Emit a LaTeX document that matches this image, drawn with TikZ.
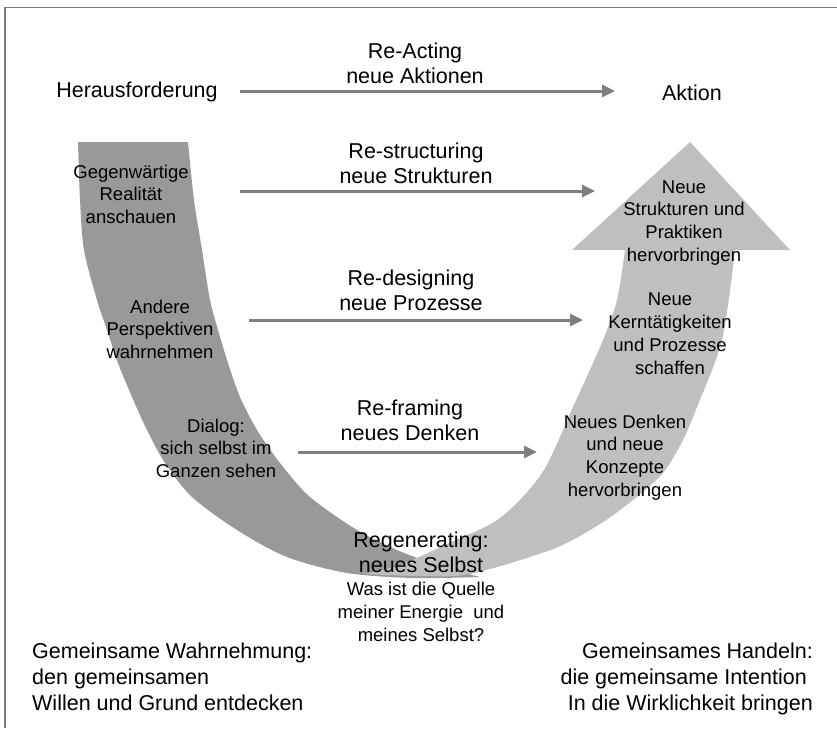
\documentclass[tikz,border=0pt]{standalone}
\usepackage{fontspec}
\setmainfont{Liberation Sans}
\usetikzlibrary{arrows.meta}
\definecolor{darkband}{HTML}{999999}
\definecolor{lightband}{HTML}{BFBFBF}
\definecolor{arrowgray}{HTML}{7F7F7F}
\definecolor{framegray}{HTML}{7A7A7A}
\newcommand\bigtxt{\fontsize{21.5}{25.5}\selectfont}
\newcommand\bottxt{\fontsize{21.5}{26}\selectfont}
\newcommand\smalltxt{\fontsize{18.5}{22.8}\selectfont}
\begin{document}
\begin{tikzpicture}[x=1pt,y=-1pt,
  bigl/.style={font=\bigtxt, align=center, anchor=base, inner sep=0pt},
  smalll/.style={font=\smalltxt, align=center, anchor=base, inner sep=0pt},
  conn/.style={draw=arrowgray, line width=3pt, -{Triangle[length=13pt,width=12pt]}},
]
\useasboundingbox (0,0) rectangle (837,728);
\fill[framegray] (4,6.8) rectangle (837,8.4);
\fill[framegray] (4,6.8) rectangle (5.6,728);

% dark band (left part of the U)
\fill[darkband] plot[smooth] coordinates {(78,142) (80,200) (84,250) (97,300) (107,330) (118,363) (132,397) (147,430) (165,463) (192,497) (237,530) (287,557) (347,573) (413,578) (480,577)}
 -- plot[smooth] coordinates {(480,577) (440,566) (397,550) (357,530) (310,497) (280,463) (257,430) (240,397) (228,363) (218,330) (210,300) (202,250) (194,200) (188,142)} -- cycle;

% light band with arrow head (right part of the U)
\fill[lightband] plot[smooth] coordinates {(365,574) (420,576) (470,574) (553,549) (600,524) (633,500) (663,473) (683,440) (697,407) (722,340) (735,250)}
 -- (790,250) -- (690,142) -- (572,250)
 -- plot[smooth] coordinates {(625,250) (617,300) (603,340) (573,407) (542,473) (500,518) (447,544) (400,565) (365,574)} -- cycle;

% texts (anchor base = baseline of the last line)
\node[bigl] (her) at (137,97) {Herausforderung};
\node[bigl] (akt) at (692,100) {Aktion};
\node[bigl] (ract) at (415,83.5) {Re-Acting\\neue Aktionen};
\node[bigl] (rstr) at (416,183.5) {Re-structuring\\neue Strukturen};
\node[bigl] (rdes) at (411,310.5) {Re-designing\\neue Prozesse};
\node[bigl] (rfra) at (410,440.5) {Re-framing\\neues Denken};
\node[bigl] (rgen) at (421,572.5) {Regenerating:\\neues Selbst};
\node[smalll] (quel) at (421,641) {Was ist die Quelle\\meiner Energie~ und\\meines Selbst?};

\node[smalll] (gegen) at (131,223.6) {Gegenwärtige\\Realität\\anschauen};
\node[smalll] (ander) at (160,358.6) {Andere\\Perspektiven\\wahrnehmen};
\node[smalll] (dial) at (216,477.6) {Dialog:\\sich selbst im\\Ganzen sehen};

\node[smalll] (nstr) at (684,261.5) {Neue\\Strukturen und\\Praktiken\\hervorbringen};
\node[smalll] (nker) at (670,374) {Neue\\Kerntätigkeiten\\und Prozesse\\schaffen};
\node[smalll] (nden) at (625,496.4) {Neues Denken\\und neue\\Konzepte\\hervorbringen};

\node[font=\bottxt, align=left, anchor=base west, inner sep=0pt] (wahr) at (32,710)
  {Gemeinsame Wahrnehmung:\\den gemeinsamen\\Willen und Grund entdecken};
\node[font=\bottxt, align=right, anchor=base east, inner sep=0pt] (hand) at (813,710)
  {Gemeinsames Handeln:\\die gemeinsame Intention\kern6pt\\In die Wirklichkeit bringen};

% connectors
\coordinate (a1s) at (240,91);  \coordinate (a1e) at (615,91);
\coordinate (a2s) at (240,191); \coordinate (a2e) at (595,191);
\coordinate (a3s) at (249,320); \coordinate (a3e) at (583,320);
\coordinate (a4s) at (298,452); \coordinate (a4e) at (537,452);
\draw[conn] (a1s) -- (a1e);
\draw[conn] (a2s) -- (a2e);
\draw[conn] (a3s) -- (a3e);
\draw[conn] (a4s) -- (a4e);
\end{tikzpicture}
\end{document}
